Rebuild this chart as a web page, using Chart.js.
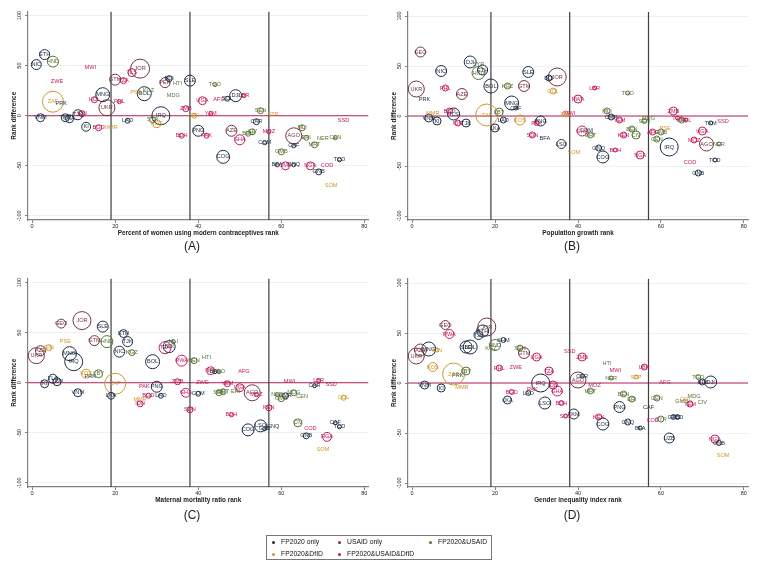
<!DOCTYPE html>
<html>
<head>
<meta charset="utf-8">
<title>Rank difference by indicator rank</title>
<script src="https://cdn.jsdelivr.net/npm/chart.js@4"></script>
<style>
    html, body { margin: 0; padding: 0; background: #fff; }
    body { position: relative; width: 762px; height: 562px; overflow: hidden; font-family: "Liberation Sans", Arial, sans-serif; }
    canvas { position: absolute; filter: blur(0.3px); }
    #legend { position: absolute; left: 266px; top: 535px; width: 226px; height: 25px; border: 1px solid #777; box-sizing: border-box; font-size: 6.8px; color: #111; }
    #legend span { position: absolute; white-space: nowrap; line-height: 8px; }
    #legend i { position: absolute; width: 3px; height: 3px; border-radius: 50%; }
</style>
</head>
<body>
<canvas id="panelA" width="380" height="270" style="left:0;top:0"></canvas>
<canvas id="panelB" width="380" height="270" style="left:380px;top:0"></canvas>
<canvas id="panelC" width="380" height="270" style="left:0;top:267px"></canvas>
<canvas id="panelD" width="380" height="270" style="left:380px;top:267px"></canvas>
<div id="legend"></div>
<script>
const groupNames = ["FP2020 only", "USAID only", "FP2020&USAID", "FP2020&DfID", "FP2020&USAID&DfID"];
const groupColors = ["#1a2c44", "#753440", "#587335", "#d0962c", "#c2185b"];
const xTicks = [0, 20, 40, 60, 80];
const yTicks = [-100, -50, 0, 50, 100];
const tertiles = [19, 38, 57];

// panel A: percent of women using modern contraceptives rank
const codesA = ["NIC","ETH","HND","ZWE","ZAF","PRK","MWI","MNG","UKR","HOL","VNM","TKM","LKA","TJK","IDN","KI","BGD","MMR","GTM","TZA","TLS","JOR","PSE","BOL","KGZ","PHL","HTI","PER","BDI","MDG","IRQ","LAO","SYR","KOS","ZMB","SLE","TGO","UGA","AFG","SOL","DJI","LBR","YEM","GIN","SEN","STP","CAR","SSD","BDH","PNG","PAK","COG","AZE","GHA","BEN","CIV","MOZ","COM","AGO","MLI","ERI","NER","CEN","CAF","MRT","GMB","BFA","CMR","GNQ","NGA","COD","GNB","SOM","TCD"];
const xA = [1,3,5,6,5,7,14,17,18,15,2,8,9,11,12,13,16,19,20,22,24,26,25,27,28,21,35,32,33,34,31,23,29,30,37,38,44,41,45,47,49,51,43,39,55,58,54,75,36,40,42,46,48,50,52,53,57,56,63,65,66,70,73,63,68,60,59,61,63,67,71,69,72,74];
const yA = [51,61,54,34,14,12,48,21,8,16,-2,-2,-3,1,2,-11,-12,-12,36,35,43,47,23,22,25,14,32,33,37,20,0,-5,-4,-8,7,35,31,15,16,17,20,20,2,0,5,1,-6,-5,-20,-15,-20,-41,-15,-24,-18,-16,-16,-27,-20,-12,-22,-23,-22,-30,-29,-36,-49,-50,-49,-50,-50,-56,-70,-44];
const weightA = [25,25,30,0,110,0,0,49,64,9,16,16,16,25,9,20,9,0,30,9,16,90,0,49,0,4,0,25,9,0,81,6,9,16,9,30,4,16,0,6,36,4,4,6,9,0,9,0,6,30,6,42,30,25,6,9,4,4,64,9,6,0,4,4,9,9,4,16,4,16,0,9,0,4];
const groupA = [0,0,2,4,3,0,4,0,1,4,0,0,0,0,4,0,4,3,1,4,4,1,3,0,2,4,2,1,0,2,0,0,2,3,4,0,2,4,4,0,0,4,4,3,2,3,0,4,4,0,4,0,1,4,2,2,4,0,1,2,2,2,2,0,2,2,0,4,0,4,4,0,3,0];

// panel B: population growth rank
const codesB = ["GEO","UKR","PRK","NIC","PHL","AZE","DJI","SYR","HND","ETH","BOL","KGZ","GTM","SLE","BDI","JOR","COL","MNG","CAF","MMR","BGD","TLS","VNM","KI","IDN","TJK","ZAF","LBY","LAO","KOS","PNG","PAK","GIN","LKA","SDN","BFA","LSO","LBR","TGO","RWA","MLI","CMR","YEM","SEN","MDG","ZMB","TZA","ERI","NPL","SSD","TKM","UGA","BEN","CIV","KEN","GHA","COM","MRT","AFG","GMB","PSE","CEN","MOZ","IRQ","AGO","NER","GNQ","BDH","NGA","COG","COD","TCD","GNB","SOM","MWI"];
const xB = [2,1,3,7,8,12,14,16,16,17,19,23,27,28,33,35,34,24,25,5,9,10,4,6,11,13,18,21,22,26,31,30,37,20,29,32,36,44,52,40,47,48,50,56,57,63,64,65,66,75,72,70,53,54,51,41,42,43,58,60,61,59,68,62,71,74,45,49,55,46,67,73,69,39,38];
const yB = [64,27,17,45,28,22,54,52,43,46,30,30,30,44,38,39,25,13,8,3,5,2,-2,-5,-7,-7,1,4,-4,-4,-5,-7,2,-12,-19,-22,-28,28,23,17,5,-1,-4,-5,-2,5,-2,-4,-4,-5,-7,-15,-13,-19,-19,-15,-14,-19,-16,-16,-12,-23,-24,-31,-28,-28,-32,-34,-39,-41,-46,-44,-57,-36,3];
const weightB = [25,64,0,30,9,30,36,0,42,25,49,9,30,30,9,81,9,49,4,0,9,36,16,16,9,16,121,16,9,25,25,6,9,16,9,0,20,4,4,16,9,9,9,6,0,16,4,9,4,0,4,16,9,16,9,25,0,9,9,9,0,9,9,81,49,4,9,4,16,36,0,4,9,0,0];
const groupB = [1,1,0,0,4,1,0,2,2,0,0,2,1,0,0,1,3,0,0,3,4,0,0,0,4,0,3,2,0,3,0,4,3,0,4,0,0,4,2,4,2,0,4,2,2,4,4,2,4,4,0,4,2,2,4,4,0,2,4,2,3,2,4,0,1,2,0,4,4,0,4,0,0,3,4];

// panel C: maternal mortality ratio rank
const codesC = ["GEO","JOR","SLE","ETH","GTM","HND","TJK","PSE","GIN","AZE","UKR","NIC","KGZ","MNG","IRQ","BOL","TZA","BDI","MLI","RWA","BEN","KOS","PRK","LBY","KI","TLS","TKM","VNM","ZAF","LKA","PAK","PNG","ZMB","BGD","LAO","MMR","IDN","GHA","COM","ZWE","HTI","NPL","BFA","TGO","AFG","YEM","UGA","SEN","MRT","ERI","AGO","MOZ","NER","GMB","CMR","MDG","CEN","MWI","LBR","CAR","SSD","COL","KEN","SDN","BDH","COG","LSO","GNQ","GAB","CIV","CAF","TCD","COD","GNB","NGA","SOM"];
const xC = [7,12,17,22,15,18,23,8,4,2,1,21,24,9,10,29,32,33,34,36,39,13,14,16,3,5,6,11,20,19,27,30,35,28,31,26,26,37,40,41,42,43,44,45,51,47,50,45,46,49,53,54,59,60,61,63,65,62,69,68,72,75,57,38,48,52,55,58,56,64,73,74,67,66,71,70];
const yC = [59,62,56,49,42,41,41,41,35,32,27,31,30,29,21,21,35,36,41,22,22,9,6,9,-1,4,1,-10,-1,-13,-4,-4,1,-13,-13,-17,-21,-10,-11,0,25,12,11,11,11,-1,-5,-10,-9,-9,-10,-12,-12,-16,-13,-10,-14,1,2,-3,-2,-15,-25,-27,-32,-47,-43,-44,-46,-40,-40,-44,-46,-53,-54,-67];
const weightC = [20,81,30,16,25,36,25,0,9,25,64,30,9,49,81,49,36,36,4,30,9,20,0,16,16,20,16,16,110,12,0,30,9,6,6,0,9,20,6,0,0,16,4,4,0,9,16,9,9,0,64,4,4,9,9,9,0,0,4,4,0,6,9,9,4,36,36,0,4,16,4,4,0,9,20,0];
const groupC = [1,1,0,0,1,2,0,3,3,1,1,0,2,0,0,0,4,0,2,4,2,3,0,2,0,0,0,0,3,0,4,0,4,4,0,3,4,4,0,4,2,4,0,2,4,4,4,2,2,2,1,4,2,2,0,2,2,4,4,0,4,3,4,4,4,0,0,0,0,2,0,0,4,0,4,3];

// panel D: gender inequality index rank
const codesD = ["GEO","RWA","JOR","ETH","TJK","KHM","BOL","SLE","HND","KGZ","SEN","GTM","UGA","UKR","AZE","MNG","GIN","KOS","ZAF","PRK","LBY","MMR","VNM","KI","PHL","ZWE","TZA","IRQ","IDN","PAK","GHA","BGD","LAO","LKA","LSO","BDH","SDN","TKM","SSD","ZMB","HTI","MWI","LBR","AGO","CAR","NER","STP","MOZ","AFG","TGO","DJI","BDI","MRT","BEN","ERI","CEN","MDG","GMB","COL","YEM","CIV","CAF","PNG","KEN","COG","GNQ","BFA","COD","SYR","GAB","TCD","UZB","NGA","GNB","SOM"];
const xD = [8,9,18,17,16,22,14,13,20,19,26,27,30,1,2,4,6,5,10,11,13,12,3,7,21,25,33,31,34,29,35,24,28,23,32,36,37,39,38,41,47,49,56,40,41,48,54,44,61,69,72,70,43,51,53,59,68,65,66,67,70,57,50,45,46,52,55,58,60,63,64,62,73,74,75];
const yD = [58,49,56,52,48,43,36,36,38,35,35,30,26,27,33,34,33,16,9,8,12,-4,-2,-5,15,16,12,0,-2,-6,-8,-9,-10,-17,-20,-20,-33,-31,32,26,20,13,16,3,7,5,6,-2,1,6,1,1,-8,-11,-16,-15,-13,-18,-16,-21,-19,-24,-24,-34,-41,-39,-45,-37,-36,-34,-34,-55,-56,-60,-72];
const weightD = [20,20,81,36,20,6,49,36,30,0,9,30,16,64,36,49,4,20,121,0,16,0,16,16,9,0,16,81,16,0,25,6,6,16,36,6,4,25,0,16,0,0,9,64,4,4,4,0,0,6,36,9,9,9,9,9,0,0,0,9,0,0,30,9,36,9,4,0,9,6,6,25,16,6,0];
const groupD = [1,4,1,0,0,0,0,0,2,2,2,1,4,1,1,0,3,3,3,0,2,3,0,0,4,4,4,0,4,4,4,4,0,0,0,4,4,0,4,4,2,4,4,1,0,2,3,4,4,2,0,0,2,2,2,2,2,2,3,4,2,0,0,4,0,0,0,4,2,0,0,0,4,0,3];

Chart.defaults.font.family = '"Liberation Sans", Arial, sans-serif';
Chart.defaults.color = "#222";

// writes the country code in the middle of every bubble
const codeLabels = {
    id: "codeLabels",
    afterDatasetsDraw(chart) {
        const ctx = chart.ctx;
        ctx.save();
        ctx.font = '5.6px "Liberation Sans", Arial, sans-serif';
        ctx.textAlign = "center";
        ctx.textBaseline = "middle";
        chart.data.datasets.forEach((dataset, i) => {
            if (dataset.type === "line") return;
            ctx.fillStyle = dataset.borderColor;
            chart.getDatasetMeta(i).data.forEach((point, j) => {
                ctx.fillText(dataset.data[j].code, point.x, point.y);
            });
        });
        ctx.restore();
    },
};

// "(A)" and so on, under the x axis title
const panelCaption = {
    id: "panelCaption",
    afterDraw(chart, args, opts) {
        const ctx = chart.ctx;
        ctx.save();
        ctx.font = '12px "Liberation Sans", Arial, sans-serif';
        ctx.fillStyle = "#222";
        ctx.textAlign = "center";
        ctx.textBaseline = "middle";
        ctx.fillText(opts.text, chart.width / 2 + 2, opts.y);
        ctx.restore();
    },
};

function fixedSize(prop, size) {
    return (scale) => { scale[prop] = size; };
}

function setTicks(values) {
    return (scale) => { scale.ticks = values.map((value) => ({ value: value })); };
}

function createPanel(id, codes, xs, ys, weights, groups, xTitle, caption, captionY) {
    const datasets = groupNames.map((name, g) => {
        const data = [];
        codes.forEach((code, i) => {
            if (groups[i] === g) data.push({ x: xs[i], y: ys[i], r: Math.sqrt(weights[i]), code: code });
        });
        return {
            label: name,
            data: data,
            borderColor: groupColors[g],
            backgroundColor: "rgba(0, 0, 0, 0)",
            borderWidth: 1,
            hoverRadius: 0,
            clip: false,
            order: 1,
        };
    });
    tertiles.forEach((x) => {
        datasets.push({
            type: "line",
            data: [{ x: x, y: -104 }, { x: x, y: 104 }],
            borderColor: "#3f3f3f",
            borderWidth: 1.2,
            pointRadius: 0,
            order: 2,
        });
    });
    datasets.push({
        type: "line",
        data: [{ x: -1, y: 0 }, { x: 81, y: 0 }],
        borderColor: "#b8215c",
        borderWidth: 1,
        pointRadius: 0,
        order: 2,
    });

    return new Chart(document.getElementById(id).getContext("2d"), {
        type: "bubble",
        data: { datasets: datasets },
        plugins: [codeLabels, panelCaption],
        options: {
            responsive: false,
            animation: false,
            layout: { padding: { top: 8.5, right: 8, bottom: 33, left: 0 } },
            plugins: {
                legend: { display: false },
                tooltip: { enabled: false },
                panelCaption: { text: caption, y: captionY },
            },
            scales: {
                x: {
                    type: "linear",
                    min: -1,
                    max: 81,
                    afterBuildTicks: setTicks(xTicks),
                    afterFit: fixedSize("height", 17),
                    border: { color: "#808080", width: 1.2 },
                    grid: { drawOnChartArea: false, tickColor: "#808080", tickLength: 3 },
                    ticks: { font: { size: 5.5 }, padding: 0, maxRotation: 0, autoSkip: false },
                    title: { display: true, text: xTitle, color: "#222", font: { size: 6.4, weight: "bold" }, padding: 0 },
                },
                y: {
                    type: "linear",
                    min: -104,
                    max: 104,
                    afterBuildTicks: setTicks(yTicks),
                    afterFit: fixedSize("width", 28),
                    border: { color: "#808080", width: 1.2 },
                    grid: { color: "#eff2f2", tickColor: "#808080", tickLength: 3 },
                    ticks: { font: { size: 5.5 }, padding: 0, minRotation: 90, maxRotation: 90, crossAlign: "center", autoSkip: false },
                    title: { display: true, text: "Rank difference", color: "#222", font: { size: 6.4, weight: "bold" }, padding: { top: 10, bottom: 0 } },
                },
            },
        },
    });
}

createPanel("panelA", codesA, xA, yA, weightA, groupA, "Percent of women using modern contraceptives rank", "(A)", 247);
createPanel("panelB", codesB, xB, yB, weightB, groupB, "Population growth rank", "(B)", 247);
createPanel("panelC", codesC, xC, yC, weightC, groupC, "Maternal mortality ratio rank", "(C)", 249);
createPanel("panelD", codesD, xD, yD, weightD, groupD, "Gender inequality index rank", "(D)", 249);

// legend box below the panels: three entries on top, two below
const legendSpots = [[6, 6], [72, 6], [163, 6], [6, 18], [72, 18]];
const legend = document.getElementById("legend");
groupNames.forEach((name, g) => {
    const dot = document.createElement("i");
    dot.style.left = (legendSpots[g][0] - 1.5) + "px";
    dot.style.top = (legendSpots[g][1] - 1.5) + "px";
    dot.style.background = groupColors[g];
    const text = document.createElement("span");
    text.textContent = name;
    text.style.left = (legendSpots[g][0] + 8) + "px";
    text.style.top = (legendSpots[g][1] - 4) + "px";
    legend.appendChild(dot);
    legend.appendChild(text);
});
</script>
</body>
</html>
